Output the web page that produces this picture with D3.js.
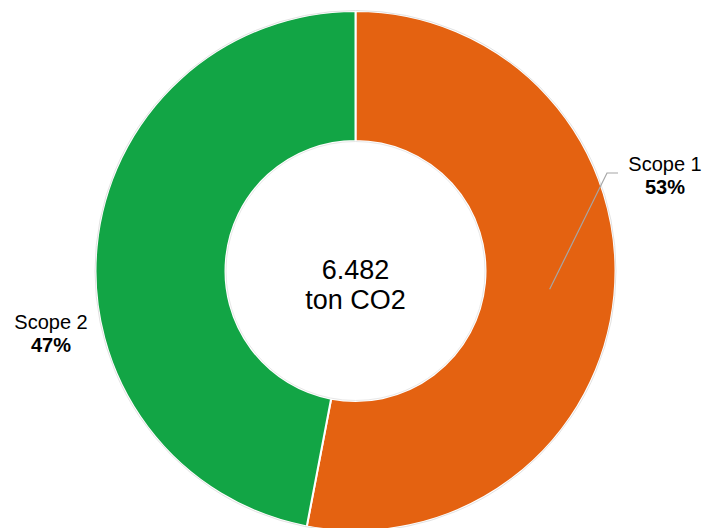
<!DOCTYPE html>
<html>
<head>
<meta charset="utf-8">
<script src="https://cdn.jsdelivr.net/npm/d3@7"></script>
<style>
  html, body { margin: 0; padding: 0; background: #fff; }
  svg { display: block; font-family: "Liberation Sans", Arial, sans-serif; }
</style>
</head>
<body>
<svg id="chart" width="705" height="528"></svg>
<script>
// Emissions by scope
const categories = ["Scope 1", "Scope 2"];
const values = [53, 47];
const colors = ["#E46211", "#12A545"];
const totalLabel = ["6.482", "ton CO2"];

const width = 705, height = 528;
const cx = 355.5, cy = 271;
const outerR = 260, innerR = 130;

const svg = d3.select("#chart");
const g = svg.append("g").attr("transform", `translate(${cx},${cy})`);

const pie = d3.pie().sort(null).value(d => d.value);
const arcs = pie(categories.map((c, i) => ({ name: c, value: values[i], color: colors[i] })));
const arc = d3.arc().innerRadius(innerR).outerRadius(outerR);

g.selectAll("path.slice")
  .data(arcs)
  .join("path")
  .attr("class", "slice")
  .attr("d", arc)
  .attr("fill", d => d.data.color)
  .attr("stroke", "#ffffff")
  .attr("stroke-width", 2);

// faint rims
g.append("circle").attr("r", outerR + 0.5).attr("fill", "none")
  .attr("stroke", "#e2e2e2").attr("stroke-width", 1);
g.append("circle").attr("r", innerR - 0.5).attr("fill", "none")
  .attr("stroke", "#e8e8e8").attr("stroke-width", 1);

// center total
const center = g.append("text").attr("text-anchor", "middle")
  .attr("font-size", 27).attr("fill", "#000");
center.append("tspan").attr("x", 0).attr("y", 279 - cy).text(totalLabel[0]);
center.append("tspan").attr("x", 0).attr("y", 309 - cy).text(totalLabel[1]);

// Scope 1 label with leader line from the slice centroid
const pStart = arc.centroid(arcs[0]);
const bend = [607 - cx, 173 - cy];
g.append("polyline")
  .attr("points", [pStart, bend, [bend[0] + 11, bend[1]]].map(p => p.join(",")).join(" "))
  .attr("fill", "none").attr("stroke", "#a6a6a6").attr("stroke-width", 1.2);

function label(x, y, name, pct) {
  const t = svg.append("text").attr("text-anchor", "middle").attr("font-size", 20).attr("fill", "#000");
  t.append("tspan").attr("x", x).attr("y", y).text(name);
  t.append("tspan").attr("x", x).attr("y", y + 23).attr("font-weight", "bold").text(pct + "%");
}
label(665, 171, categories[0], values[0]);
label(51, 329, categories[1], values[1]);
</script>
</body>
</html>
